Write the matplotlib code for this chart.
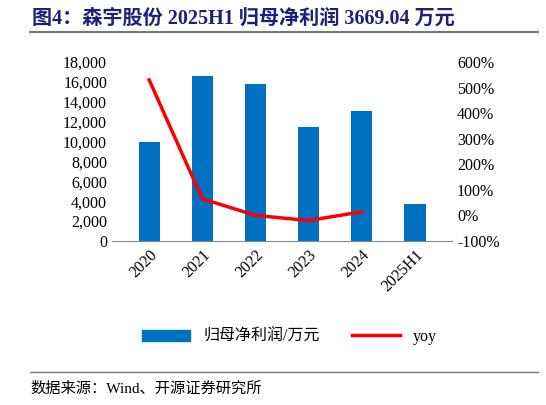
import matplotlib
matplotlib.use("Agg")
import matplotlib.pyplot as plt
from matplotlib.lines import Line2D

plt.rcParams['font.family'] = ['Liberation Serif', 'Noto Sans CJK SC']

years = ['2020', '2021', '2022', '2023', '2024', '2025H1']
profit = [10000, 16600, 15800, 11500, 13100, 3669.04]
yoy_years = ['2020', '2021', '2022', '2023', '2024']
yoy = [530, 65, 0, -20, 14]

fig = plt.figure(figsize=(5.46, 4.05), dpi=100)
ax = fig.add_axes([0.205, 0.405, 0.623, 0.442])
x = list(range(len(years)))
ax.bar(x, profit, width=0.4, color='#0070C0', label='归母净利润/万元')
ax.set_ylim(0, 18000)
ax.set_yticks(range(0, 18001, 2000))
ax.set_yticklabels([f'{v:,}' for v in range(0, 18001, 2000)], fontsize=11.5)
ax.set_xlim(-0.7, len(years) - 0.3)
ax.set_xticks(x)
ax.set_xticklabels(years, rotation=45, fontsize=11.5, ha='right', rotation_mode='anchor')
ax2 = ax.twinx()
ax2.plot(list(range(len(yoy))), yoy, color='#FF0000', lw=2.5)
ax2.set_ylim(-100, 600)
ax2.set_yticks(range(-100, 601, 100))
ax2.set_yticklabels([f'{v}%' for v in range(-100, 601, 100)], fontsize=11.5)
for a in (ax, ax2):
    for s in a.spines.values():
        s.set_visible(False)
    a.tick_params(length=0)
ax.spines['bottom'].set_visible(True)
ax.spines['bottom'].set_color('#888888')
ax.tick_params(axis='x', pad=4)

handles = [plt.Rectangle((0, 0), 1, 1, color='#0070C0'), Line2D([0], [0], color='#FF0000', lw=2.5)]
fig.legend(handles, ['归母净利润/万元', 'yoy'], loc='center', bbox_to_anchor=(0.53, 0.168),
           ncol=2, frameon=False, fontsize=11.5, handlelength=3, columnspacing=2)

fig.text(0.058, 0.955, '图4：森宇股份 2025H1 归母净利润 3669.04 万元', fontsize=14.5, fontweight='bold',
         color='#1F1F7A', va='center')
fig.add_artist(Line2D([0.055, 0.985], [0.922, 0.922], color='#777777', lw=1.5))
fig.add_artist(Line2D([0.055, 0.985], [0.082, 0.082], color='#777777', lw=1))
fig.text(0.055, 0.04, '数据来源：Wind、开源证券研究所', fontsize=11, va='center')

fig.savefig('out.png', dpi=100)
